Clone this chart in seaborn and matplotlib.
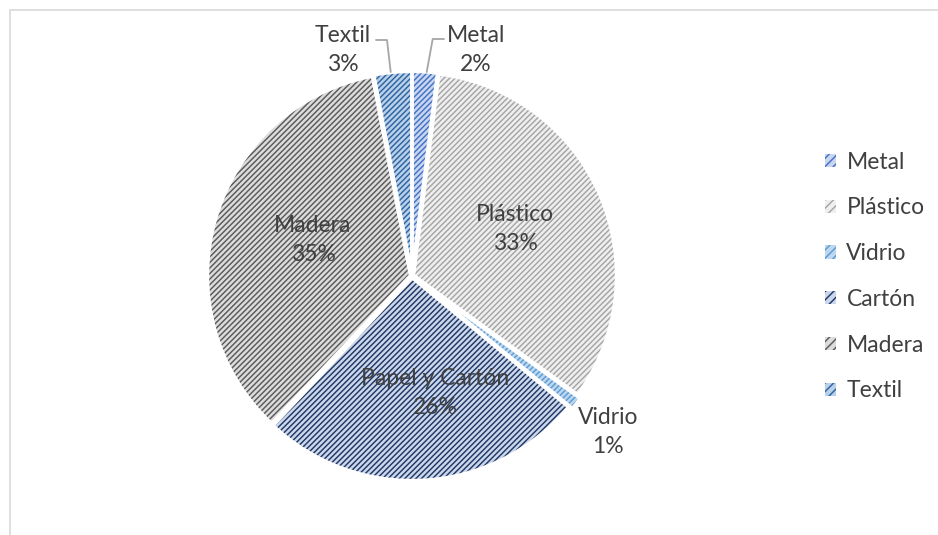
import matplotlib
matplotlib.use("Agg")
import matplotlib.pyplot as plt
from matplotlib.patches import Patch, Rectangle
import seaborn as sns

sns.set_theme(style="white")
plt.rcParams["font.family"] = ["Lato", "DejaVu Sans"]
plt.rcParams["hatch.linewidth"] = 1.05

# Waste composition (%)
categories = ["Metal", "Plástico", "Vidrio", "Cartón", "Madera", "Textil"]
shares = [2, 33, 1, 26, 35, 3]
slice_labels = ["Metal", "Plástico", "Vidrio", "Papel y Cartón", "Madera", "Textil"]

# Fill colours: background tint and stripe colour per material
face_colors = ["#C8D6F0", "#EFEFEF", "#BDD7EE", "#CCD7EC", "#DCDCDC", "#B8D0EA"]
stripe_colors = ["#4472C4", "#A5A5A5", "#5B9BD5", "#1F3864", "#5A5A5A", "#2E64A0"]

TEXT = "#404040"
FS = 16.5
HATCH = "//////"

W, H = 938, 535
fig = plt.figure(figsize=(W / 100, H / 100), dpi=100)

# Light chart-area frame
fig.patches.append(Rectangle((9.5 / W, -0.1), 1.2, (H - 9.5) / H + 0.1,
                             transform=fig.transFigure, fill=False,
                             edgecolor="#D9D9D9", lw=1.2))

# Square axes centred on the pie
cx, cy, R, half = 412, 276, 203, 250
ax = fig.add_axes([(cx - half) / W, (H - cy - half) / H, 2 * half / W, 2 * half / H])

explode = [0.008, 0.008, 0.025, 0.008, 0.008, 0.008]
common = dict(startangle=90, counterclock=False, explode=explode, radius=1)

# background tint
ax.pie(shares, colors=face_colors, wedgeprops=dict(linewidth=0), **common)
# diagonal stripes
wedges, _ = ax.pie(shares, colors=["none"] * len(shares),
                   wedgeprops=dict(linewidth=0), **common)
for w, sc in zip(wedges, stripe_colors):
    w.set_facecolor("none")
    w.set_edgecolor(sc)
    w.set_linewidth(0)
    w.set_hatch(HATCH)
# white separators
ax.pie(shares, colors=["none"] * len(shares),
       wedgeprops=dict(linewidth=2.5, edgecolor="white", fill=False), **common)

lim = half / R
ax.set_xlim(-lim, lim)
ax.set_ylim(-lim, lim)
ax.set_aspect("equal")
ax.axis("off")

# Label anchor points (offsets from centre, in pie radii)
label_pos = {
    "Metal": (64, 226),
    "Plástico": (103, 47),
    "Vidrio": (196, -156),
    "Cartón": (23, -117),
    "Madera": (-99, 36),
    "Textil": (-69, 226),
}
for cat, lab, val in zip(categories, slice_labels, shares):
    dx, dy = label_pos[cat]
    ax.text(dx / R, dy / R, f"{lab}\n{val}%", ha="center", va="center",
            fontsize=FS, color=TEXT, linespacing=1.45)

# Leader lines for the two thin top slices
lead = dict(color="#A6A6A6", lw=1.3)
ax.plot([(444 - cx) / R, (432.7 - cx) / R, (426.7 - cx) / R],
        [(cy - 39) / R, (cy - 39) / R, (cy - 72) / R], **lead)
ax.plot([(376 - cx) / R, (387 - cx) / R, (390.7 - cx) / R],
        [(cy - 40) / R, (cy - 40) / R, (cy - 72) / R], **lead)

# Legend
handles = [Patch(facecolor=fc, edgecolor=sc, hatch="////", linewidth=0)
           for fc, sc in zip(face_colors, stripe_colors)]
leg = fig.legend(handles, categories, loc="upper left",
                 bbox_to_anchor=(804 / W, 1 - 131 / H), frameon=False,
                 fontsize=FS, handlelength=0.5, handleheight=0.5,
                 handletextpad=0.45, labelspacing=1.08)
for t in leg.get_texts():
    t.set_color(TEXT)

fig.savefig("out.png", dpi=100)
